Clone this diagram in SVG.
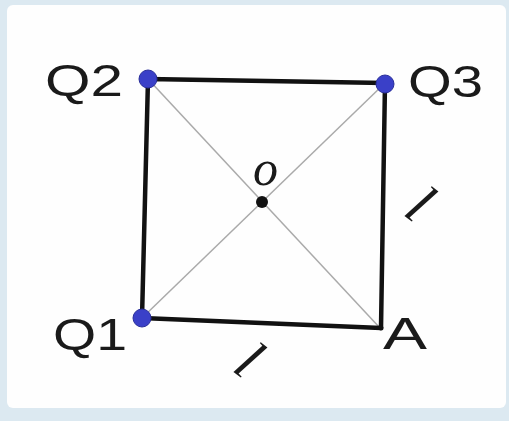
<svg xmlns="http://www.w3.org/2000/svg" width="509" height="421" viewBox="0 0 509 421">
<style>
.lbl{font-family:"Liberation Sans",Arial,sans-serif;font-size:44px;fill:#1a1a1a}
.it{font-family:"Liberation Serif","Times New Roman",serif;font-style:italic;fill:#1a1a1a}
.edge{stroke:#111;stroke-width:4.5;stroke-linecap:round;stroke-linejoin:round;fill:none}
.diag{stroke:#aaa;stroke-width:1.5;fill:none}
.pt{fill:#3a40c8;stroke:#2a2f9a;stroke-width:1}
</style>
<rect x="0" y="0" width="509" height="421" fill="#dce9f1"/>
<rect x="7" y="5" width="499" height="403" rx="6" fill="#fefefe"/>
<g id="connectors">
<line class="diag" x1="148" y1="79" x2="380" y2="328"/>
<line class="diag" x1="142" y1="318" x2="385" y2="83"/>
<path class="edge" d="M148,79 L385,83 L381,328 L142,318 Z"/>
</g>
<g id="Q2"><circle class="pt" cx="148" cy="79" r="9"/><text class="lbl" x="45" y="96" textLength="78" lengthAdjust="spacingAndGlyphs">Q2</text></g>
<g id="Q3"><circle class="pt" cx="385" cy="84" r="9"/><text class="lbl" x="408" y="97" textLength="75" lengthAdjust="spacingAndGlyphs">Q3</text></g>
<g id="Q1"><circle class="pt" cx="142" cy="318" r="9"/><text class="lbl" x="53" y="350" textLength="74" lengthAdjust="spacingAndGlyphs">Q1</text></g>
<g id="A"><circle cx="381" cy="328" r="2.5" fill="#111"/><text class="lbl" x="383" y="349" textLength="44" lengthAdjust="spacingAndGlyphs">A</text></g>
<g id="O"><circle cx="262" cy="202" r="6" fill="#111"/><text class="it" x="253" y="185" font-size="50">o</text></g>
<g id="l-right"><text class="it" font-size="58" transform="translate(402,214) rotate(38)">l</text></g>
<g id="l-bottom"><text class="it" font-size="58" transform="translate(231,370) rotate(38)">l</text></g>
</svg>
